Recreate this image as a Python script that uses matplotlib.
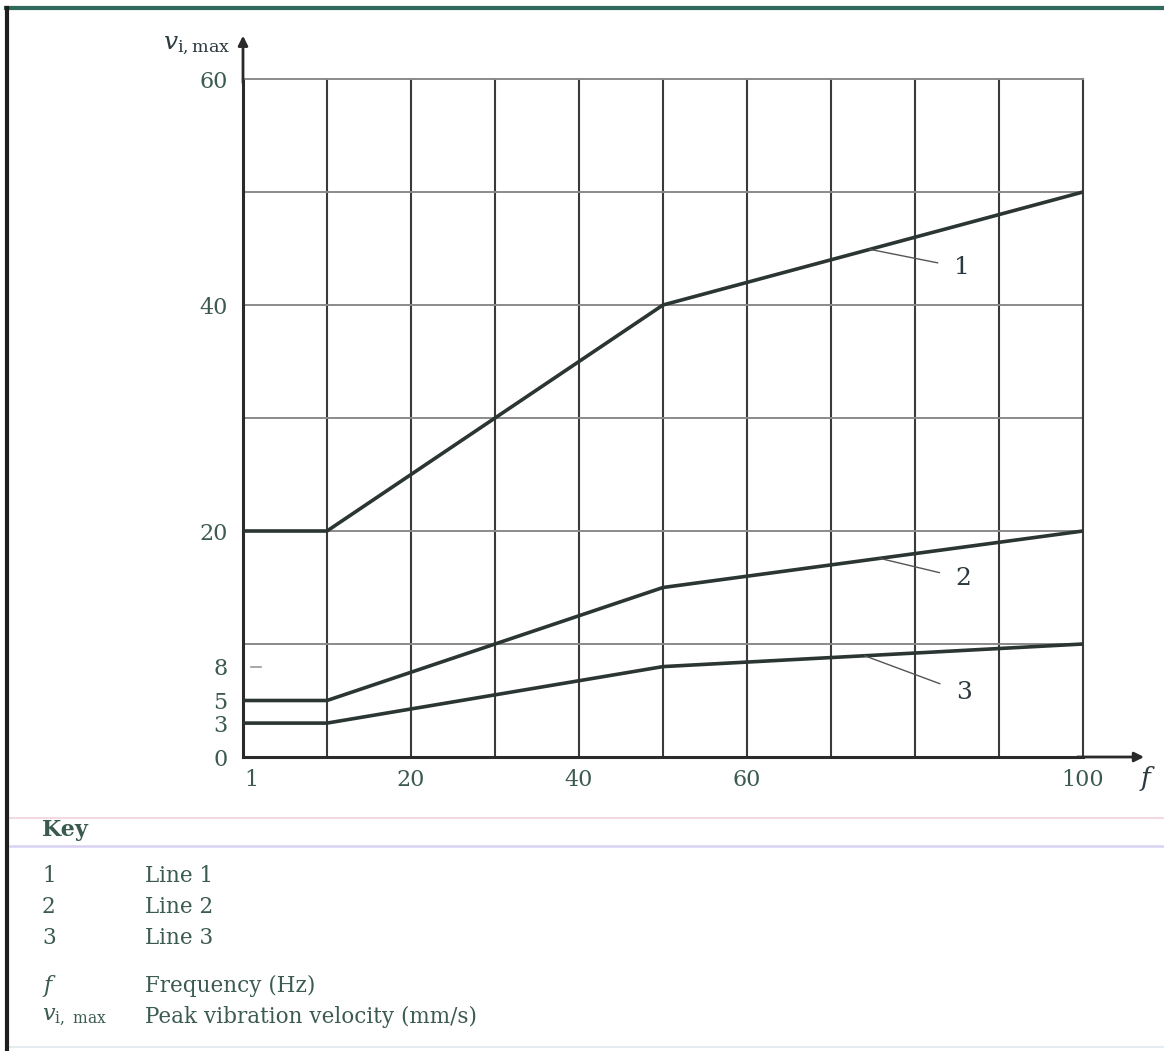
import matplotlib
matplotlib.use("Agg")
import matplotlib.pyplot as plt
from matplotlib.lines import Line2D

# data (lines start at the left axis)
freq = [0, 10, 50, 100]
line1 = [20, 20, 40, 50]
line2 = [5, 5, 15, 20]
line3 = [3, 3, 8, 10]

x_ticks = [1, 20, 40, 60, 100]
y_ticks = [0, 3, 5, 8, 20, 40, 60]
x_grid = [10, 20, 30, 40, 50, 60, 70, 80, 90]
y_grid = [10, 20, 30, 40, 50]

# callout labels: (label, point on line, label position)
callouts = [
    ("1", (74.6, 44.93), (85.6, 43.3)),
    ("2", (75.8, 17.58), (85.8, 15.8)),
    ("3", (74.0, 8.96), (85.8, 5.7)),
]

key_items = [("1", "Line 1"), ("2", "Line 2"), ("3", "Line 3")]

TXT = "#3b5a52"
LINE = "#2b3533"
VGRID = "#3a3a3a"
HGRID = "#8a8a8a"

plt.rcParams["font.family"] = "DejaVu Serif"
plt.rcParams["mathtext.fontset"] = "dejavuserif"

W, H = 1164, 1051
fig = plt.figure(figsize=(W / 100, H / 100), dpi=100)
fig.patch.set_facecolor("white")

ax = fig.add_axes([243 / W, 1 - 757 / H, 840 / W, 678 / H])
ax.set_xlim(0, 100)
ax.set_ylim(0, 60)

for gx in x_grid:
    ax.axvline(gx, color=VGRID, lw=1.5, zorder=1)
for gy in y_grid:
    ax.axhline(gy, color=HGRID, lw=1.4, zorder=1)

for ys in (line1, line2, line3):
    ax.plot(freq, ys, color=LINE, lw=2.6, solid_capstyle="butt", zorder=3)

for lab, pt, pos in callouts:
    ax.annotate(lab, xy=pt, xytext=pos, ha="center", va="center",
                fontsize=18, color="#2a3a40",
                arrowprops=dict(arrowstyle="-", color="#555555", lw=1.0,
                                shrinkA=10, shrinkB=0))

# small tick at 8
ax.plot([0.010, 0.022], [8, 8], color="#999999", lw=1.2,
        transform=ax.get_yaxis_transform(), clip_on=False)

ax.spines["top"].set_color(HGRID)
ax.spines["top"].set_linewidth(1.4)
ax.spines["right"].set_color(VGRID)
ax.spines["right"].set_linewidth(1.5)
for side in ("left", "bottom"):
    ax.spines[side].set_color("#2a2a2a")
    ax.spines[side].set_linewidth(2.2)

ax.set_xticks(x_ticks)
ax.set_xticklabels([str(v) for v in x_ticks])
ax.set_yticks(y_ticks)
ax.set_yticklabels([str(v) for v in y_ticks])
ax.tick_params(axis="both", length=0, labelsize=16, colors=TXT)
ax.tick_params(axis="x", pad=9)
ax.tick_params(axis="y", pad=11)

# axis arrows
ax.annotate("", xy=(0, 1.068), xytext=(0, 0.99), xycoords="axes fraction",
            arrowprops=dict(arrowstyle="-|>", color="#2a2a2a", lw=2.0,
                            mutation_scale=14), annotation_clip=False)
ax.annotate("", xy=(1.076, 0), xytext=(0.99, 0), xycoords="axes fraction",
            arrowprops=dict(arrowstyle="-|>", color="#2a2a2a", lw=2.0,
                            mutation_scale=14), annotation_clip=False)

ax.text(-0.015, 1.05, r"$v_{\mathrm{i,max}}$", transform=ax.transAxes,
        ha="right", va="center", fontsize=18, color="#2a3a40")
ax.text(1.077, -0.031, r"$f$", transform=ax.transAxes,
        ha="center", va="center", fontsize=19, color="#2a3a40")

# page decorations
def hline(y, x0, x1, color, lw):
    fig.add_artist(Line2D([x0 / W, x1 / W], [1 - y / H, 1 - y / H],
                          color=color, lw=lw, transform=fig.transFigure))

hline(8, 6, W, "#2f6b5c", 3.0)
hline(818, 10, W, "#f2d9e2", 1.5)
hline(846, 10, W, "#d9d2f2", 1.8)
hline(1047, 10, W, "#e4ecf2", 1.5)
fig.add_artist(Line2D([7 / W, 7 / W], [1 - 8 / H, 0], color="#1e1e1e",
                      lw=3.0, transform=fig.transFigure))

# key block
fig.text(42 / W, 1 - 830 / H, "Key", ha="left", va="center",
         fontsize=16, fontweight="bold", color="#3a5a50")
for i, (num, txt) in enumerate(key_items):
    yy = 1 - (876 + 31 * i) / H
    fig.text(42 / W, yy, num, ha="left", va="center", fontsize=15.5, color=TXT)
    fig.text(145 / W, yy, txt, ha="left", va="center", fontsize=15.5, color=TXT)

fig.text(42 / W, 1 - 986 / H, r"$f$", ha="left", va="center",
         fontsize=16, color=TXT)
fig.text(145 / W, 1 - 986 / H, "Frequency (Hz)", ha="left", va="center",
         fontsize=15.5, color=TXT)
fig.text(42 / W, 1 - 1017 / H, r"$v_{\mathrm{i,\ max}}$", ha="left",
         va="center", fontsize=16, color=TXT)
fig.text(145 / W, 1 - 1017 / H, "Peak vibration velocity (mm/s)", ha="left",
         va="center", fontsize=15.5, color=TXT)

fig.savefig("out.png", dpi=100, facecolor="white")
